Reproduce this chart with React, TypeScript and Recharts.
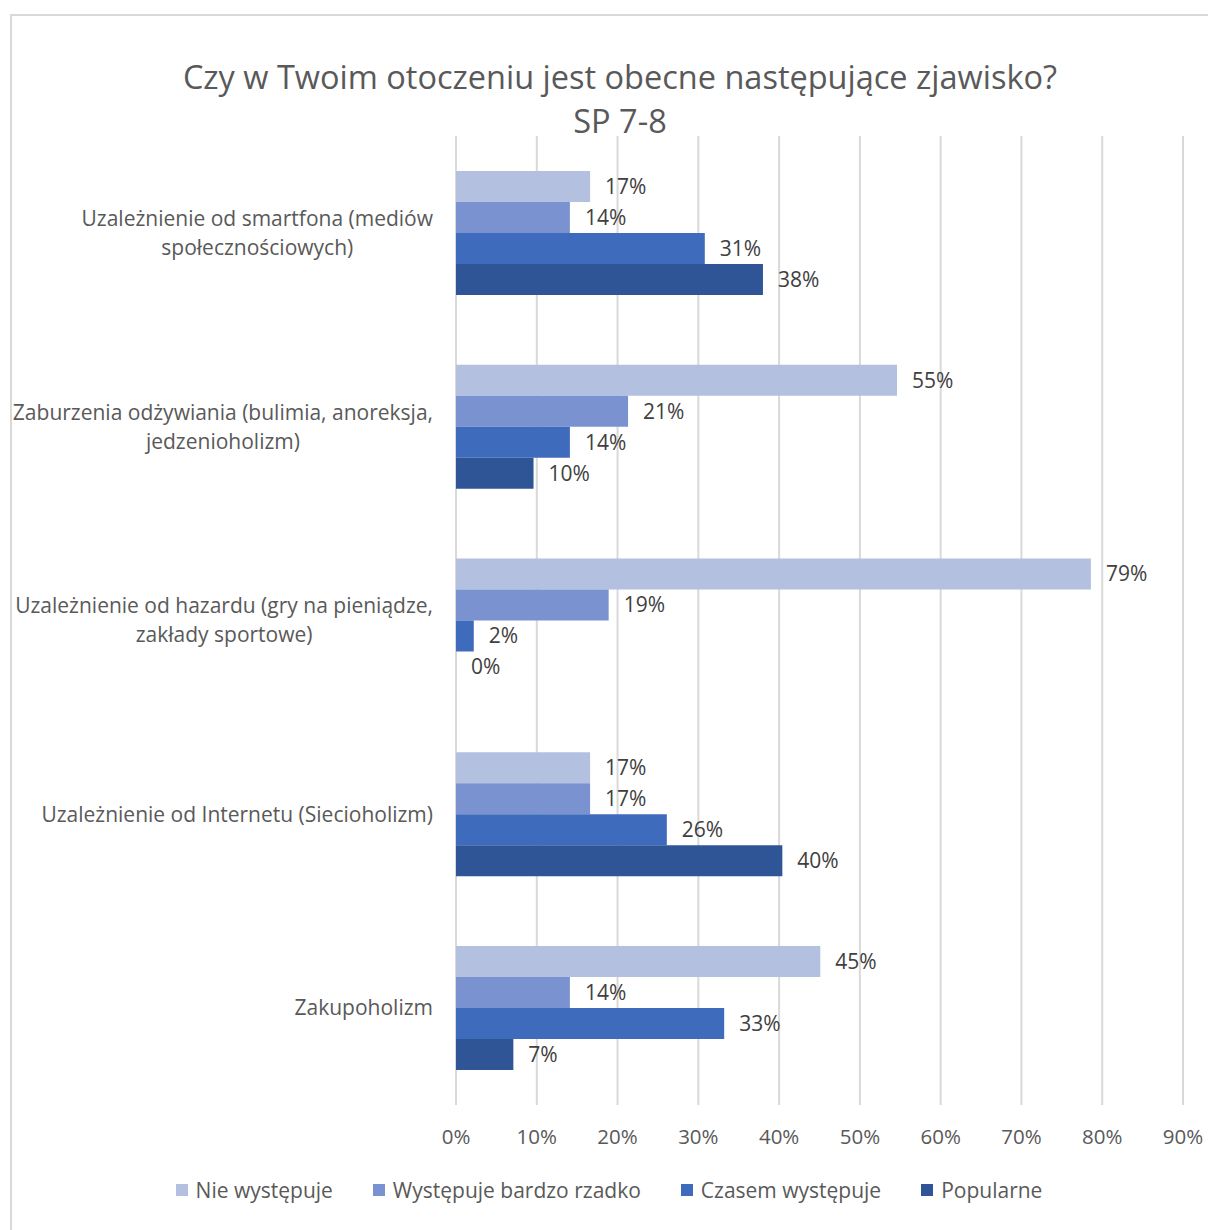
import { BarChart, Bar, XAxis, YAxis, CartesianGrid, LabelList } from 'recharts';

const categories = [
  'Uzależnienie od smartfona (mediów\nspołecznościowych)',
  'Zaburzenia odżywiania (bulimia, anoreksja,\njedzenioholizm)',
  'Uzależnienie od hazardu (gry na pieniądze,\nzakłady sportowe)',
  'Uzależnienie od Internetu (Siecioholizm)',
  'Zakupoholizm',
];
const nieWystepuje = [16.6, 54.6, 78.6, 16.6, 45.1];
const bardzoRzadko = [14.1, 21.3, 18.9, 16.6, 14.1];
const czasemWystepuje = [30.8, 14.1, 2.2, 26.1, 33.2];
const popularne = [38.0, 9.6, 0, 40.4, 7.1];
const seriesNames = ['Nie występuje', 'Występuje bardzo rzadko', 'Czasem występuje', 'Popularne'];
const seriesColors = ['#B4C0E0', '#7A93D0', '#3F6BBC', '#2F5597'];
const xTicks = [0, 10, 20, 30, 40, 50, 60, 70, 80, 90];

const FONT = '"Open Sans", sans-serif';
const GREY = '#595959';

const data = categories.map((name, i) => ({
  name,
  s0: nieWystepuje[i],
  s1: bardzoRzadko[i],
  s2: czasemWystepuje[i],
  s3: popularne[i],
}));

let ctx: CanvasRenderingContext2D | null = null;
const measure = (t: string, size: number) => {
  if (!ctx) ctx = document.createElement('canvas').getContext('2d');
  if (!ctx) return t.length * size * 0.5;
  ctx.font = `${size}px ${FONT}`;
  return ctx.measureText(t).width;
};

const CatTick = (props: any) => {
  const { y, payload } = props;
  const lines: string[] = String(payload.value).split('\n');
  const maxW = Math.max(...lines.map((l) => measure(l, 21)));
  const cx = 433 - maxW / 2;
  const lh = 29;
  const y0 = y - ((lines.length - 1) * lh) / 2;
  return (
    <text textAnchor="middle" fill={GREY} fontSize={21} fontFamily={FONT}>
      {lines.map((l, i) => (
        <tspan key={i} x={cx} y={y0 + i * lh} dy="0.35em">
          {l}
        </tspan>
      ))}
    </text>
  );
};

const ValTick = (props: any) => {
  const { x, payload } = props;
  return (
    <text x={x} y={1137} dy="0.35em" textAnchor="middle" fill={GREY} fontSize={20.5} fontFamily={FONT}>
      {payload.value}%
    </text>
  );
};

const BarValue = (props: any) => {
  const { value } = props;
  const vb = props.viewBox || {};
  const x = Number(props.x ?? vb.x);
  const y = Number(props.y ?? vb.y);
  const w = Number(props.width ?? vb.width ?? 0) || 0;
  const h = Number(props.height ?? vb.height ?? 0) || 0;
  if (value == null) return null;
  return (
    <text x={x + w + 15} y={y + h / 2} dy="0.35em" fill="#404040" fontSize={21} fontFamily={FONT}>
      {Math.round(Number(value))}%
    </text>
  );
};

export default function App() {
  return (
    <div style={{ position: 'absolute', left: 0, top: 0, width: 1208, height: 1230, background: '#fff', overflow: 'hidden', fontFamily: FONT }}>
      <div style={{ position: 'absolute', left: 10, top: 14, width: 1240, height: 1240, border: '2px solid #d9d9d9', boxSizing: 'border-box' }} />
      <div style={{ position: 'absolute', left: 0, width: 1240, top: 55, textAlign: 'center', color: GREY, fontSize: 32.5, lineHeight: '44px' }}>
        Czy w Twoim otoczeniu jest obecne następujące zjawisko?
        <br />
        SP 7-8
      </div>
      <div style={{ position: 'absolute', left: 0, top: 0 }}>
        <BarChart
          width={1208}
          height={1230}
          data={data}
          layout="vertical"
          margin={{ top: 136, right: 25, bottom: 85, left: 0 }}
          barCategoryGap="18%"
          barGap={0}
        >
          <CartesianGrid horizontal={false} stroke="#d9d9d9" strokeWidth={2} />
          <XAxis
            type="number"
            domain={[0, 90]}
            ticks={xTicks}
            height={40}
            axisLine={false}
            tickLine={false}
            tick={<ValTick />}
          />
          <YAxis type="category" dataKey="name" width={456} axisLine={false} tickLine={false} tick={<CatTick />} interval={0} />
          {seriesNames.map((n, i) => (
            <Bar key={n} dataKey={`s${i}`} name={n} fill={seriesColors[i]} minPointSize={0.01} isAnimationActive={false}>
              <LabelList dataKey={`s${i}`} content={<BarValue />} />
            </Bar>
          ))}
        </BarChart>
      </div>
      <div style={{ position: 'absolute', top: 1176, left: 0, width: 1218, display: 'flex', justifyContent: 'center', gap: 40, color: GREY, fontSize: 21 }}>
        {seriesNames.map((n, i) => (
          <div key={n} style={{ display: 'flex', alignItems: 'center', gap: 8 }}>
            <span style={{ width: 12, height: 12, background: seriesColors[i], display: 'inline-block' }} />
            <span>{n}</span>
          </div>
        ))}
      </div>
    </div>
  );
}
